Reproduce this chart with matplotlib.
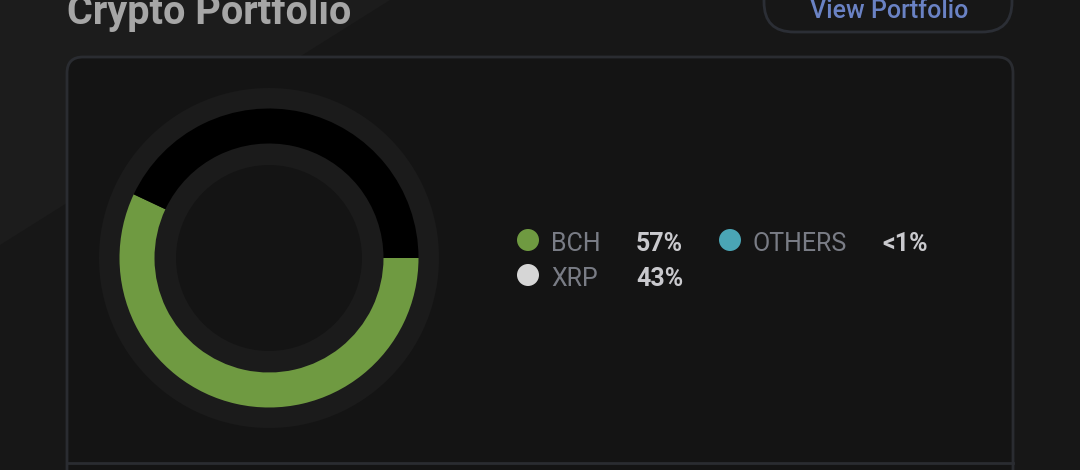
import numpy as np
import matplotlib.pyplot as plt
from matplotlib.patches import FancyBboxPatch, Circle, Polygon

# data
coins = ["BCH", "XRP", "OTHERS"]
shares = [57, 43, 0]
share_labels = ["57%", "43%", "<1%"]
ring_colors = ["#6f9a41", "#000000", "#4aa5b5"]
dot_colors = ["#6f9a41", "#d6d6d6", "#4aa5b5"]

W, H = 1080, 470
fig = plt.figure(figsize=(W / 100, H / 100), dpi=100)
fig.patch.set_facecolor("#171717")

# background axes in pixel coordinates
ax = fig.add_axes([0, 0, 1, 1])
ax.set_xlim(0, W)
ax.set_ylim(H, 0)
ax.axis("off")

# lighter diagonal band in the top-left corner
ax.add_patch(Polygon([[0, 0], [390, 0], [0, 245]], closed=True,
                     facecolor="#1c1c1c", edgecolor="none"))

# title and button
ax.text(67, 24, "Crypto Portfolio", fontsize=28.5, fontweight="bold",
        family="Roboto", color="#a6a6a6", va="baseline", ha="left")
ax.add_patch(FancyBboxPatch((764, -40), 248, 72,
                            boxstyle="round,pad=0,rounding_size=30",
                            facecolor="#171717", edgecolor="#2b2e35", lw=2))
ax.text(889, 18, "View Portfolio", fontsize=18, fontweight="medium",
        family="Roboto", color="#6a82c4", va="baseline", ha="center")

# card
ax.add_patch(FancyBboxPatch((67, 57), 946, 460,
                            boxstyle="round,pad=0,rounding_size=16",
                            facecolor="#141414", edgecolor="#2a2c31", lw=2))
ax.plot([67, 1013], [463, 463], color="#2a2c31", lw=2)

# legend
legend_rows = [(528, 240), (528, 275), (730, 240)]
label_x = [551, 551, 752]
value_x = [636, 636, 882]
for i, coin in enumerate(coins):
    cx, cy = legend_rows[i]
    ax.add_patch(Circle((cx, cy), 11, facecolor=dot_colors[i], edgecolor="none"))
    ax.text(label_x[i], cy + 11, coin, fontsize=18, family="Roboto",
            color="#797c85", va="baseline", ha="left")
    ax.text(value_x[i], cy + 11, share_labels[i], fontsize=18, family="Roboto",
            fontweight="bold", color="#c9c9cd", va="baseline", ha="left")

# donut chart
cxp, cyp, half = 269, 258, 180
dax = fig.add_axes([(cxp - half) / W, (H - cyp - half) / H, 2 * half / W, 2 * half / H])
dax.add_patch(Circle((0, 0), 170, facecolor="#1b1b1b", edgecolor="none"))
dax.add_patch(Circle((0, 0), 93, facecolor="#141414", edgecolor="none"))
dax.pie(shares, colors=ring_colors, radius=149.5, startangle=0, counterclock=False,
        wedgeprops=dict(width=35, edgecolor="none"), frame=True)
dax.set_xlim(-half, half)
dax.set_ylim(-half, half)
dax.set_aspect("equal")
dax.axis("off")

fig.savefig("out.png", dpi=100, facecolor=fig.get_facecolor())
